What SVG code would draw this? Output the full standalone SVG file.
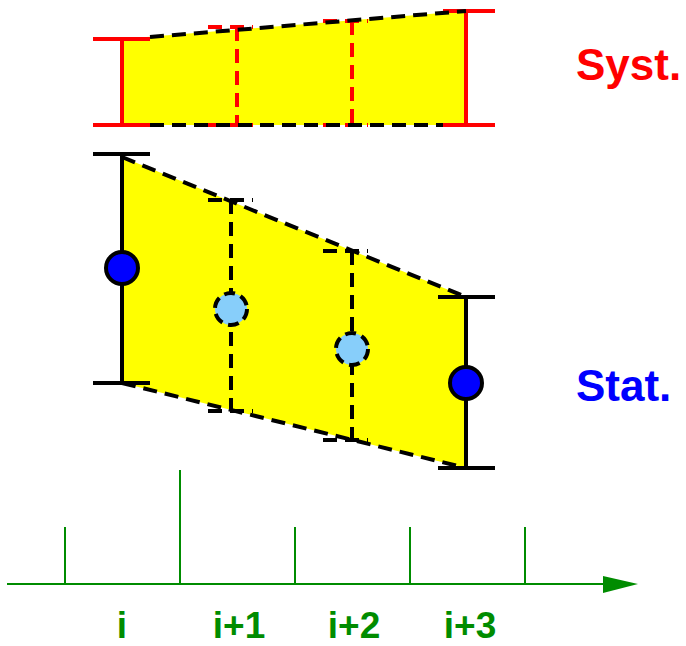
<svg xmlns="http://www.w3.org/2000/svg" width="686" height="646" viewBox="0 0 686 646">
<style>
.fill{fill:#ffff00;stroke:none}
.bk{stroke:#000;stroke-width:4;fill:none}
.bkd{stroke:#000;stroke-width:4;fill:none;stroke-dasharray:14 8}
.rd{stroke:#ff0000;stroke-width:4;fill:none}
.rdd{stroke:#ff0000;stroke-width:4;fill:none;stroke-dasharray:14 8}
.ax{stroke:#008c00;stroke-width:2;fill:none}
.lbl{font-family:"Liberation Sans",Arial,sans-serif;font-weight:bold;font-size:44px}
.tick{font-family:"Liberation Sans",Arial,sans-serif;font-weight:bold;font-size:37px;fill:#008c00;text-anchor:middle}
</style>
<g id="syst">
<polygon class="fill" points="122,39 466,11 466,125 122,125"/>
<line class="rd" x1="122" y1="39" x2="122" y2="125"/>
<line class="rd" x1="93" y1="39" x2="150" y2="39"/>
<line class="rd" x1="93" y1="125" x2="150" y2="125"/>
<line class="rd" x1="466" y1="11" x2="466" y2="125"/>
<line class="rd" x1="443" y1="11" x2="495" y2="11"/>
<line class="rd" x1="443" y1="125" x2="495" y2="125"/>
<line class="rdd" x1="237" y1="27" x2="237" y2="125"/>
<line class="rdd" x1="208" y1="27" x2="253" y2="27"/>
<line class="rdd" x1="208" y1="125" x2="253" y2="125"/>
<line class="rdd" x1="352" y1="21" x2="352" y2="125"/>
<line class="rdd" x1="323" y1="21" x2="368" y2="21"/>
<line class="rdd" x1="323" y1="125" x2="368" y2="125"/>
<line class="bkd" x1="150" y1="37" x2="466" y2="11"/>
<line class="bkd" x1="150" y1="125" x2="443" y2="125"/>
</g>
<g id="stat">
<polygon class="fill" points="122,157 466,297 466,468 122,383"/>
<line class="bkd" x1="122" y1="157" x2="466" y2="297"/>
<line class="bkd" x1="122" y1="383" x2="466" y2="468"/>
<line class="bk" x1="122" y1="154" x2="122" y2="383"/>
<line class="bk" x1="93" y1="154" x2="150" y2="154"/>
<line class="bk" x1="93" y1="383" x2="150" y2="383"/>
<line class="bk" x1="466" y1="297" x2="466" y2="468"/>
<line class="bk" x1="438" y1="297" x2="495" y2="297"/>
<line class="bk" x1="438" y1="468" x2="495" y2="468"/>
<line class="bkd" x1="231" y1="200" x2="231" y2="411"/>
<line class="bkd" x1="208" y1="200" x2="253" y2="200"/>
<line class="bkd" x1="208" y1="411" x2="253" y2="411"/>
<line class="bkd" x1="352" y1="251" x2="352" y2="440"/>
<line class="bkd" x1="323" y1="251" x2="368" y2="251"/>
<line class="bkd" x1="323" y1="440" x2="368" y2="440"/>
<circle cx="122" cy="268" r="16" fill="#0000ff" stroke="#000" stroke-width="4"/>
<circle cx="466" cy="383" r="16" fill="#0000ff" stroke="#000" stroke-width="4"/>
<circle cx="231" cy="309" r="16" fill="#87cefa" stroke="#000" stroke-width="4" stroke-dasharray="11 6"/>
<circle cx="352" cy="349" r="16" fill="#87cefa" stroke="#000" stroke-width="4" stroke-dasharray="11 6"/>
</g>
<g id="axis">
<line class="ax" x1="7" y1="584" x2="604" y2="584"/>
<polygon points="603,576 638,584 603,593" fill="#008c00"/>
<line class="ax" x1="65" y1="527" x2="65" y2="584"/>
<line class="ax" x1="180" y1="470" x2="180" y2="584"/>
<line class="ax" x1="295" y1="527" x2="295" y2="584"/>
<line class="ax" x1="410" y1="527" x2="410" y2="584"/>
<line class="ax" x1="525" y1="527" x2="525" y2="584"/>
<text class="tick" x="122" y="638">i</text>
<text class="tick" x="239" y="638">i+1</text>
<text class="tick" x="354" y="638">i+2</text>
<text class="tick" x="470" y="638">i+3</text>
</g>
<g id="labels">
<text class="lbl" x="576" y="80" fill="#ff0000">Syst.</text>
<text class="lbl" x="576" y="401" fill="#0000ff">Stat.</text>
</g>
</svg>
